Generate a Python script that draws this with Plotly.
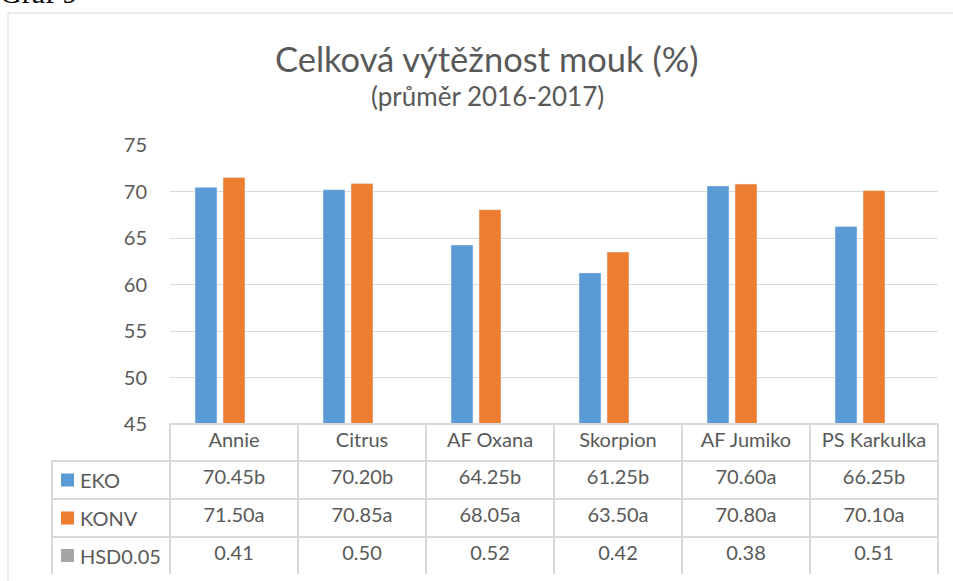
import plotly.graph_objects as go

categories = ["Annie", "Citrus", "AF Oxana", "Skorpion", "AF Jumiko", "PS Karkulka"]
eko = [70.45, 70.20, 64.25, 61.25, 70.60, 66.25]
konv = [71.50, 70.85, 68.05, 63.50, 70.80, 70.10]
hsd = [0.41, 0.50, 0.52, 0.42, 0.38, 0.51]
eko_letters = ["b", "b", "b", "b", "a", "b"]
konv_letters = ["a", "a", "a", "a", "a", "a"]
series_names = ["EKO", "KONV", "HSD0.05"]
colors = ["#5B9BD5", "#ED7D31", "#A5A5A5"]
y_ticks = [45, 50, 55, 60, 65, 70, 75]

FONT = "Lato"
TXT = "#595959"
GRID = "#D9D9D9"

W, H = 953, 581
ML, MR, MT, MB = 52, 15, 145, 7
PW = W - ML - MR
PH = H - MT - MB
plot_left = 170
plot_bottom = 424
row_centers = [480, 518, 555.5]


def px_x(px):
    return (px - ML) / PW


def px_y(py):
    return 1 - (py - MT) / PH


fig = go.Figure()
for name, vals, col in zip(series_names, [eko, konv, hsd], colors):
    fig.add_trace(go.Bar(x=categories, y=vals, name=name, marker_color=col,
                         showlegend=False, xaxis="x", yaxis="y"))

# data table
cols = [["", "", ""]]
for i in range(len(categories)):
    cols.append([f"{eko[i]:.2f}{eko_letters[i]}", f"{konv[i]:.2f}{konv_letters[i]}", f"{hsd[i]:.2f}"])

n = len(categories)
fig.add_trace(go.Table(
    domain=dict(x=[0, 1], y=[0, px_y(plot_bottom)]),
    columnwidth=[118] + [128] * n,
    header=dict(values=[""] + categories,
                fill=dict(color=["rgba(0,0,0,0)"] + ["white"] * n),
                line=dict(color=["rgba(0,0,0,0)"] + [GRID] * n, width=2),
                font=dict(family=FONT, size=20, color=TXT),
                align="center", height=37),
    cells=dict(values=cols,
               fill=dict(color="white"),
               line=dict(color=GRID, width=2),
               font=dict(family=FONT, size=20, color=TXT),
               align="center", height=38),
))

annotations = [
    dict(text="Celková výtěžnost mouk (%)", x=px_x(487), y=px_y(58), xref="paper", yref="paper",
         showarrow=False, xanchor="center", yanchor="middle",
         font=dict(family=FONT, size=34.5, color=TXT)),
    dict(text="(průměr 2016-2017)", x=px_x(487), y=px_y(96), xref="paper", yref="paper",
         showarrow=False, xanchor="center", yanchor="middle",
         font=dict(family=FONT, size=26, color=TXT)),
    dict(text="Graf 9", x=px_x(-2), y=px_y(11), xref="paper", yref="paper",
         showarrow=False, xanchor="left", yanchor="bottom",
         font=dict(family="Liberation Serif", size=30, color="black")),
]
shapes = [
    dict(type="rect", xref="paper", yref="paper", x0=px_x(8), x1=px_x(965),
         y0=px_y(600), y1=px_y(13), line=dict(color=GRID, width=1), layer="below"),
]
for name, col, yc in zip(series_names, colors, row_centers):
    annotations.append(dict(text=name, x=px_x(78), y=px_y(yc), xref="paper", yref="paper",
                            showarrow=False, xanchor="left", yanchor="middle",
                            font=dict(family=FONT, size=20, color=TXT)))
    shapes.append(dict(type="rect", xref="paper", yref="paper", x0=px_x(61), x1=px_x(74),
                       y0=px_y(yc + 6.5), y1=px_y(yc - 6.5), fillcolor=col,
                       line=dict(width=0), layer="above"))

fig.update_layout(
    width=W, height=H, autosize=False,
    margin=dict(l=ML, r=MR, t=MT, b=MB, autoexpand=False),
    paper_bgcolor="white", plot_bgcolor="white",
    barmode="group", bargap=0.344, bargroupgap=0.214,
    xaxis=dict(domain=[px_x(plot_left), 1], showticklabels=False, showgrid=False,
               zeroline=False, showline=False, automargin=False),
    yaxis=dict(domain=[px_y(plot_bottom), 1], range=[45, 75], tickvals=y_ticks,
               showgrid=True, gridcolor=GRID, gridwidth=1, zeroline=False, showline=False,
               ticks="outside", ticklen=18, tickcolor="rgba(0,0,0,0)", automargin=False,
               tickfont=dict(family=FONT, size=20, color=TXT)),
    font=dict(family=FONT, color=TXT),
    annotations=annotations,
    shapes=shapes,
)

fig.write_html("out.html", config={"displayModeBar": False},
               post_script="document.body.style.margin='0';document.body.style.overflow='hidden';")
